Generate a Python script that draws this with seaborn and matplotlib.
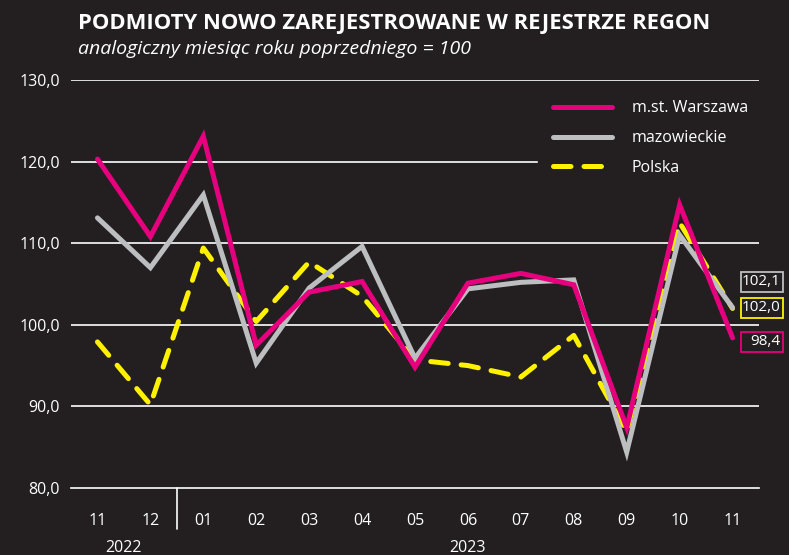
import matplotlib
matplotlib.use("Agg")
import matplotlib.pyplot as plt
import matplotlib.transforms as mtransforms
from matplotlib.patches import Rectangle
import numpy as np
import pandas as pd
import seaborn as sns

months = ["11", "12", "01", "02", "03", "04", "05", "06", "07", "08", "09", "10", "11"]
warszawa = [120.3, 110.8, 123.1, 97.5, 104.0, 105.3, 94.8, 105.1, 106.3, 104.9, 87.4, 114.7, 98.4]
mazowieckie = [113.1, 107.0, 115.9, 95.3, 104.5, 109.6, 95.9, 104.4, 105.2, 105.5, 84.4, 111.0, 102.1]
polska = [97.9, 90.2, 109.4, 100.4, 107.7, 103.5, 95.7, 95.0, 93.6, 98.7, 86.9, 112.5, 102.0]
yticks = [80, 90, 100, 110, 120, 130]

BG = "#231f20"
MAG = "#e6007e"
GRAY = "#bcbec0"
YEL = "#fff200"
WHITE = "#ffffff"

sns.set_theme(style="dark")
plt.rcParams["font.family"] = ["Open Sans", "DejaVu Sans"]

fig = plt.figure(figsize=(7.89, 5.55), dpi=100, facecolor=BG)
ax = fig.add_axes([0.09, 0.1207, 0.872, 0.7353])
ax.set_facecolor(BG)

x = np.arange(len(months))
df = pd.DataFrame({"x": x, "w": warszawa, "m": mazowieckie, "p": polska})

for yv in yticks[1:]:
    ax.axhline(yv, color=WHITE, lw=1.2, zorder=1)

lw = 3.6
sns.lineplot(data=df, x="x", y="p", ax=ax, color=YEL, lw=lw, label="Polska", zorder=3)
sns.lineplot(data=df, x="x", y="m", ax=ax, color=GRAY, lw=lw, label="mazowieckie", zorder=4)
sns.lineplot(data=df, x="x", y="w", ax=ax, color=MAG, lw=lw, label="m.st. Warszawa", zorder=5)
for ln in ax.lines:
    ln.set_solid_capstyle("round")
    ln.set_solid_joinstyle("miter")
polska_line = [ln for ln in ax.lines if ln.get_label() == "Polska"][0]
polska_line.set_linestyle((0, (3.5, 2.6)))
polska_line.set_dash_capstyle("round")

ax.set_xlim(-0.5, len(months) - 0.5)
ax.set_ylim(80, 130)
ax.set_yticks(yticks)
ax.set_yticklabels([f"{v},0" for v in yticks], color=WHITE, fontsize=11.5)
ax.set_xticks(x)
ax.set_xticklabels(months, color=WHITE, fontsize=11.5)
ax.set_xticks(np.arange(-0.5, len(months)), minor=True)
ax.tick_params(axis="x", which="major", length=0, pad=18)
ax.tick_params(axis="x", which="minor", length=8, direction="in", color=WHITE, width=1.2)
ax.tick_params(axis="y", length=0, pad=8)
ax.set_xlabel("")
ax.set_ylabel("")
for s in ["top", "right", "left"]:
    ax.spines[s].set_visible(False)
ax.spines["bottom"].set_color(WHITE)
ax.spines["bottom"].set_linewidth(1.2)
ax.grid(False)

trans = mtransforms.blended_transform_factory(ax.transData, ax.transAxes)
ax.plot([1.5, 1.5], [0, -0.1], transform=trans, color=WHITE, lw=1.2, clip_on=False)
ax.text(0.5, -0.147, "2022", transform=trans, ha="center", va="center", color=WHITE, fontsize=11.5)
ax.text(7, -0.147, "2023", transform=trans, ha="center", va="center", color=WHITE, fontsize=11.5)

h, l = ax.get_legend_handles_labels()
order = [l.index("m.st. Warszawa"), l.index("mazowieckie"), l.index("Polska")]
leg = ax.legend([h[i] for i in order], [l[i] for i in order], loc="upper left",
                bbox_to_anchor=(0.679, 0.985), frameon=True, facecolor=BG, edgecolor=BG,
                framealpha=1, fontsize=11.5, handlelength=3.75, labelspacing=0.86,
                borderpad=0.9, handletextpad=1.2, borderaxespad=0)
leg.get_frame().set_boxstyle("square", pad=0)
for t in leg.get_texts():
    t.set_color(WHITE)
leg.set_zorder(6)

# end labels (boxes of equal width, text right-aligned)
labels = [("102,1", GRAY, 105.3), ("102,0", YEL, 102.1), ("98,4", MAG, 97.95)]
box_h = 2.45
for txt, col, ypos in labels:
    ax.add_patch(Rectangle((12.16, ypos - box_h / 2), 0.8, box_h, facecolor=BG,
                           edgecolor=col, lw=1.3, clip_on=False, zorder=7))
    ax.text(12.9, ypos, txt, color=WHITE, fontsize=11, ha="right", va="center",
            clip_on=False, zorder=8)

fig.text(0.099, 0.958, "PODMIOTY NOWO ZAREJESTROWANE W REJESTRZE REGON", color=WHITE,
         fontsize=15.8, fontweight="bold", ha="left", va="center")
fig.text(0.099, 0.912, "analogiczny miesiąc roku poprzedniego = 100", color=WHITE,
         fontsize=14, style="italic", ha="left", va="center")

fig.savefig("out.png", dpi=100, facecolor=BG)
